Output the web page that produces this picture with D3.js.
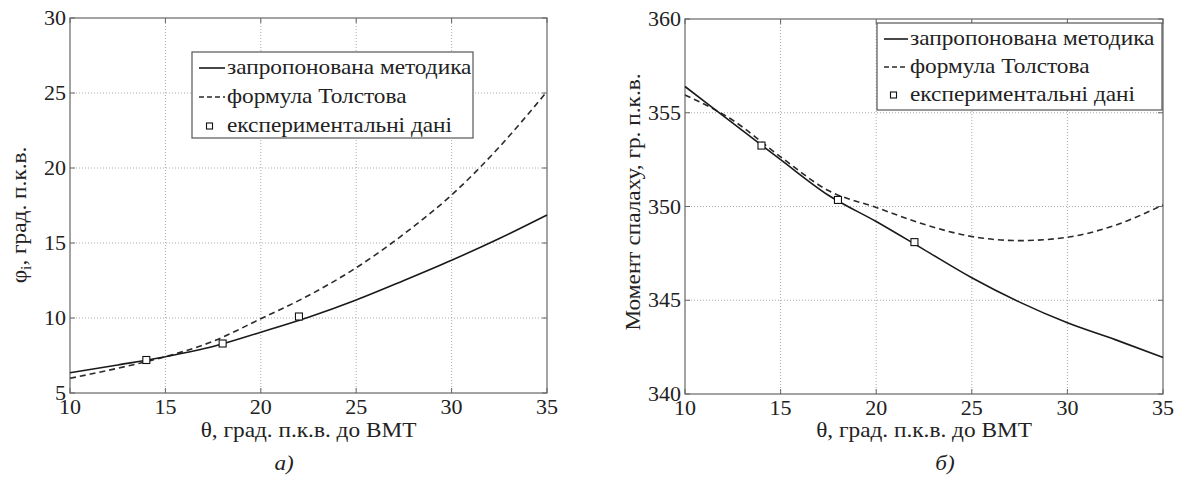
<!DOCTYPE html>
<html><head><meta charset="utf-8">
<script src="https://cdn.jsdelivr.net/npm/d3@7"></script>
<style>html,body{margin:0;background:#fff;}</style></head>
<body><svg id="c" width="1178" height="477" font-family="Liberation Serif"></svg>
<script>
// ---- data ----
const thetaGrid = [10, 12.5, 15, 17.5, 20, 22.5, 25, 27.5, 30, 32.5, 35];
const phiProposed = [6.35, 6.87, 7.42, 8.1, 9.05, 10.05, 11.2, 12.5, 13.85, 15.3, 16.87];
const phiTolstov = [5.98, 6.65, 7.42, 8.45, 9.95, 11.5, 13.35, 15.6, 18.2, 21.4, 25.1];
const expTheta = [14, 18, 22];
const phiExp = [7.2, 8.3, 10.1];
const ignProposed = [356.4, 354.45, 352.5, 350.6, 349.2, 347.7, 346.2, 344.9, 343.8, 342.9, 341.95];
const ignTolstov = [355.95, 354.6, 352.65, 350.85, 349.95, 349.05, 348.4, 348.18, 348.36, 349.0, 350.08];
const ignExp = [353.25, 350.35, 348.1];
const xTicks = [10, 15, 20, 25, 30, 35];
const yTicksLeft = [5, 10, 15, 20, 25, 30];
const yTicksRight = [340, 345, 350, 355, 360];
const legendLabels = ["запропонована методика", "формула Толстова", "експериментальні дані"];
const xLabel = "θ, град. п.к.в. до ВМТ";

const FONT = "Liberation Serif";
const FS = 21, SX = 1.11, TFS = 20, TSX = 1.1, TXT = "#222";
const svg = d3.select("#c");

function txt(parent, x, y, s, size, sx, extra){
  const t = parent.append("text")
    .attr("transform", `translate(${x},${y})${extra||""} scale(${sx},1)`)
    .attr("font-family", FONT).style("font-family", FONT)
    .attr("font-size", size).attr("fill", TXT);
  if (s !== null) t.text(s);
  return t;
}

function panel(o){
  const x = d3.scaleLinear().domain([10,35]).range(o.xr);
  const y = d3.scaleLinear().domain(o.yd).range(o.yr);
  const g = svg.append("g");
  const [x0,x1] = o.xr, [y0,y1] = o.yr;
  // grid
  g.append("g").selectAll("line").data(xTicks.slice(1,-1)).join("line")
    .attr("x1",d=>x(d)).attr("x2",d=>x(d)).attr("y1",y0).attr("y2",y1)
    .attr("stroke","#aaa").attr("stroke-width",1).attr("stroke-dasharray","1,2");
  g.append("g").selectAll("line").data(o.yt.slice(1,-1)).join("line")
    .attr("y1",d=>y(d)).attr("y2",d=>y(d)).attr("x1",x0).attr("x2",x1)
    .attr("stroke","#aaa").attr("stroke-width",1).attr("stroke-dasharray","1,2");
  // inward ticks on all sides
  const tk = g.append("g").attr("stroke","#666").attr("stroke-width",1);
  tk.selectAll(".tb").data(xTicks).join("line").attr("x1",d=>x(d)).attr("x2",d=>x(d)).attr("y1",y0).attr("y2",y0-5);
  tk.selectAll(".tt").data(xTicks).join("line").attr("x1",d=>x(d)).attr("x2",d=>x(d)).attr("y1",y1).attr("y2",y1+5);
  tk.selectAll(".tl").data(o.yt).join("line").attr("y1",d=>y(d)).attr("y2",d=>y(d)).attr("x1",x0).attr("x2",x0+5);
  tk.selectAll(".tr").data(o.yt).join("line").attr("y1",d=>y(d)).attr("y2",d=>y(d)).attr("x1",x1).attr("x2",x1-5);
  // tick labels
  xTicks.forEach(v => txt(g, x(v), y0+21, String(v), TFS, TSX).attr("text-anchor","middle"));
  o.yt.forEach(v => txt(g, x0-4, y(v), String(v), TFS, TSX).attr("text-anchor","end").attr("dy","0.35em"));
  // box
  g.append("rect").attr("x",x0).attr("y",y1).attr("width",x1-x0).attr("height",y0-y1)
    .attr("fill","none").attr("stroke","#666").attr("stroke-width",1.2);
  // lines
  const line = d3.line().x(d=>x(d[0])).y(d=>y(d[1])).curve(d3.curveMonotoneX);
  g.append("path").datum(thetaGrid.map((t,i)=>[t,o.tol[i]])).attr("d",line)
    .attr("fill","none").attr("stroke","#2a2a2a").attr("stroke-width",1.6).attr("stroke-dasharray","6,4");
  g.append("path").datum(thetaGrid.map((t,i)=>[t,o.prop[i]])).attr("d",line)
    .attr("fill","none").attr("stroke","#1a1a1a").attr("stroke-width",1.6);
  g.append("g").selectAll("rect").data(expTheta.map((t,i)=>[t,o.exp[i]])).join("rect")
    .attr("x",d=>x(d[0])-3.5).attr("y",d=>y(d[1])-3.5).attr("width",7).attr("height",7)
    .attr("fill","#fff").attr("stroke","#111").attr("stroke-width",1.1);
  // x label
  txt(g, (x0+x1)/2, 437, xLabel, FS, SX).attr("text-anchor","middle");
  // panel letter
  txt(g, o.letterX, 470, o.letter, FS, 1.1).attr("text-anchor","middle").attr("font-style","italic");
  // y label
  const yl = txt(g, o.ylx, o.yly, null, FS, SX, " rotate(-90)").attr("text-anchor","middle");
  o.ylab(yl);
  // legend
  const L = o.leg;
  const lg = g.append("g");
  lg.append("rect").attr("x",L.x).attr("y",L.y).attr("width",L.w).attr("height",L.h)
    .attr("fill","#fff").attr("stroke","#555").attr("stroke-width",1.2);
  legendLabels.forEach((t,i)=>{
    const by = L.b0 + i*L.dy, ly = by-6;
    if(i===0) lg.append("line").attr("x1",L.x+7).attr("x2",L.tx-2).attr("y1",ly).attr("y2",ly).attr("stroke","#1a1a1a").attr("stroke-width",1.6);
    if(i===1) lg.append("line").attr("x1",L.x+7).attr("x2",L.tx-2).attr("y1",ly).attr("y2",ly).attr("stroke","#2a2a2a").attr("stroke-width",1.4).attr("stroke-dasharray","5,3");
    if(i===2) lg.append("rect").attr("x",(L.x+L.tx)/2-3).attr("y",ly-3).attr("width",6).attr("height",6).attr("fill","#fff").attr("stroke","#111").attr("stroke-width",1.1);
    txt(lg, L.tx, by, t, FS, SX);
  });
}

panel({xr:[70,547], yr:[393,18], yd:[5,30], yt:yTicksLeft,
  prop:phiProposed, tol:phiTolstov, exp:phiExp,
  letter:"а)", letterX:284, ylx:26, yly:215,
  ylab: t=>{ t.append("tspan").text("φ"); t.append("tspan").attr("font-size",14).attr("dy",5).text("i"); t.append("tspan").attr("dy",-5).text(", град. п.к.в."); },
  leg:{x:192,y:52,w:281,h:86,tx:227,b0:74,dy:29}});

panel({xr:[685,1163], yr:[394,19], yd:[340,360], yt:yTicksRight,
  prop:ignProposed, tol:ignTolstov, exp:ignExp,
  letter:"б)", letterX:945, ylx:640, yly:202,
  ylab: t=>{ t.text("Момент спалаху, гр. п.к.в."); },
  leg:{x:877,y:23,w:285,h:87,tx:910,b0:45,dy:28}});
</script></body></html>
